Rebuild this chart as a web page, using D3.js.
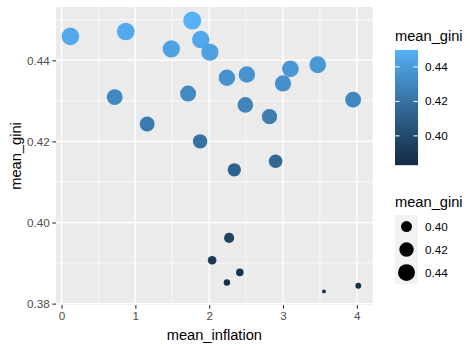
<!DOCTYPE html>
<html>
<head>
<meta charset="utf-8">
<script src="https://cdn.jsdelivr.net/npm/d3@7"></script>
<style>
body { margin: 0; background: #fff; }
text { font-family: "Liberation Sans", Arial, sans-serif; }
</style>
</head>
<body>
<div id="chart"></div>
<script>
// data
let inflation = [0.12, 0.87, 1.77, 1.886, 2.01, 1.487, 2.24, 2.51, 3.10, 3.47, 3.00, 0.72, 1.714,
    2.49, 2.817, 3.95, 1.16, 1.877, 2.90, 2.34, 2.27, 2.04, 2.415, 2.24, 3.555, 4.02];
let gini = [0.4459, 0.4471, 0.4498, 0.4451, 0.4420, 0.4428, 0.4357, 0.4365, 0.4379, 0.4389, 0.4343, 0.4309, 0.4318,
    0.4290, 0.4261, 0.4303, 0.4243, 0.4200, 0.4151, 0.4130, 0.3962, 0.3907, 0.3877, 0.3852, 0.3830, 0.3844];
let xTicks = [0, 1, 2, 3, 4];
let yTicks = [0.38, 0.40, 0.42, 0.44];
let legendBreaks = [0.40, 0.42, 0.44];

let width = 475, height = 350;
let panel = {left: 56, right: 372.7, top: 7, bottom: 305};

let svg = d3.select("#chart")
    .append("svg")
    .attr("width", width)
    .attr("height", height);

// ggplot style 5% expansion
function expand(ext) {
    let r = ext[1] - ext[0];
    return [ext[0] - r * 0.05, ext[1] + r * 0.05];
}
let gExt = d3.extent(gini);
let x = d3.scaleLinear().domain(expand(d3.extent(inflation))).range([panel.left, panel.right]);
let y = d3.scaleLinear().domain(expand(gExt)).range([panel.bottom, panel.top]);

let colour = d3.scaleLinear().domain(gExt).range(["#132B43", "#56B1F7"]).interpolate(d3.interpolateLab);
let rescale = d3.scaleLinear().domain(gExt).range([0, 1]);
let sizeScale = d3.scaleSqrt().domain([0, 1]).range([1, 6]);
function radius(v) {
    let s = sizeScale(Math.max(0, rescale(v)));
    return (s * 72.27 / 25.4 + 0.945) / 2;
}

// panel
svg.append("rect")
    .attr("x", panel.left).attr("y", panel.top)
    .attr("width", panel.right - panel.left)
    .attr("height", panel.bottom - panel.top)
    .attr("fill", "#EBEBEB");

let xMinor = [0.5, 1.5, 2.5, 3.5];
let yMinor = [0.39, 0.41, 0.43, 0.45];
let grid = svg.append("g").attr("stroke", "#fff");
grid.selectAll(".xminor").data(xMinor).enter().append("line")
    .attr("x1", d => x(d)).attr("x2", d => x(d))
    .attr("y1", panel.top).attr("y2", panel.bottom)
    .attr("stroke-width", 0.7);
grid.selectAll(".yminor").data(yMinor).enter().append("line")
    .attr("y1", d => y(d)).attr("y2", d => y(d))
    .attr("x1", panel.left).attr("x2", panel.right)
    .attr("stroke-width", 0.7);
grid.selectAll(".xmajor").data(xTicks).enter().append("line")
    .attr("x1", d => x(d)).attr("x2", d => x(d))
    .attr("y1", panel.top).attr("y2", panel.bottom)
    .attr("stroke-width", 1.4);
grid.selectAll(".ymajor").data(yTicks).enter().append("line")
    .attr("y1", d => y(d)).attr("y2", d => y(d))
    .attr("x1", panel.left).attr("x2", panel.right)
    .attr("stroke-width", 1.4);

// points
svg.append("g").selectAll("circle")
    .data(gini)
    .enter()
    .append("circle")
    .attr("cx", (d, i) => x(inflation[i]))
    .attr("cy", d => y(d))
    .attr("r", d => radius(d))
    .attr("fill", d => colour(d));

// axes
let xAxis = svg.append("g")
    .attr("transform", "translate(0," + panel.bottom + ")")
    .call(d3.axisBottom(x).tickValues(xTicks).tickSize(3.7).tickPadding(2.5).tickFormat(d3.format("d")));
let yAxis = svg.append("g")
    .attr("transform", "translate(" + panel.left + ",0)")
    .call(d3.axisLeft(y).tickValues(yTicks).tickSize(3.7).tickPadding(2.5).tickFormat(d3.format(".2f")));
[xAxis, yAxis].forEach(function (a) {
    a.select(".domain").remove();
    a.selectAll(".tick line").attr("stroke", "#333333").attr("stroke-width", 1.1);
    a.selectAll(".tick text").attr("fill", "#4D4D4D").attr("font-size", "11.7px")
        .attr("font-family", "'Liberation Sans', Arial, sans-serif");
});

svg.append("text")
    .attr("x", (panel.left + panel.right) / 2).attr("y", 340)
    .attr("text-anchor", "middle").attr("font-size", "14.67px")
    .text("mean_inflation");
svg.append("text")
    .attr("transform", "translate(20.5," + ((panel.top + panel.bottom) / 2) + ") rotate(-90)")
    .attr("text-anchor", "middle").attr("font-size", "14.67px")
    .text("mean_gini");

// colourbar legend
let lx = 395, key = 23.04;
svg.append("text").attr("x", lx).attr("y", 40.7).attr("font-size", "14.67px").text("mean_gini");
let barTop = 50, barH = key * 5;
let grad = svg.append("defs").append("linearGradient")
    .attr("id", "cbar").attr("x1", 0).attr("y1", 1).attr("x2", 0).attr("y2", 0);
grad.selectAll("stop").data(d3.range(0, 1.0001, 0.05)).enter().append("stop")
    .attr("offset", d => d)
    .attr("stop-color", d => colour(gExt[0] + d * (gExt[1] - gExt[0])));
svg.append("rect").attr("x", lx).attr("y", barTop).attr("width", key).attr("height", barH)
    .attr("fill", "url(#cbar)");
let cy = d3.scaleLinear().domain(gExt).range([barTop + barH, barTop]);
let cb = svg.append("g").selectAll("g").data(legendBreaks).enter().append("g");
cb.append("line").attr("x1", lx).attr("x2", lx + key / 5)
    .attr("y1", d => cy(d)).attr("y2", d => cy(d)).attr("stroke", "#fff").attr("stroke-width", 1);
cb.append("line").attr("x1", lx + key * 4 / 5).attr("x2", lx + key)
    .attr("y1", d => cy(d)).attr("y2", d => cy(d)).attr("stroke", "#fff").attr("stroke-width", 1);
cb.append("text").attr("x", 425).attr("y", d => cy(d)).attr("dy", "0.35em")
    .attr("font-size", "11.7px").text(d => d3.format(".2f")(d));

// size legend
svg.append("text").attr("x", lx).attr("y", 206.7).attr("font-size", "14.67px").text("mean_gini");
let sTop = 215;
let sk = svg.append("g").selectAll("g").data(legendBreaks).enter().append("g")
    .attr("transform", (d, i) => "translate(" + lx + "," + (sTop + i * key) + ")");
sk.append("rect").attr("width", key).attr("height", key).attr("fill", "#F2F2F2");
sk.append("circle").attr("cx", key / 2).attr("cy", key / 2).attr("r", d => radius(d)).attr("fill", "#000");
sk.append("text").attr("x", 425 - lx).attr("y", key / 2).attr("dy", "0.35em")
    .attr("font-size", "11.7px").text(d => d3.format(".2f")(d));
</script>
</body>
</html>
